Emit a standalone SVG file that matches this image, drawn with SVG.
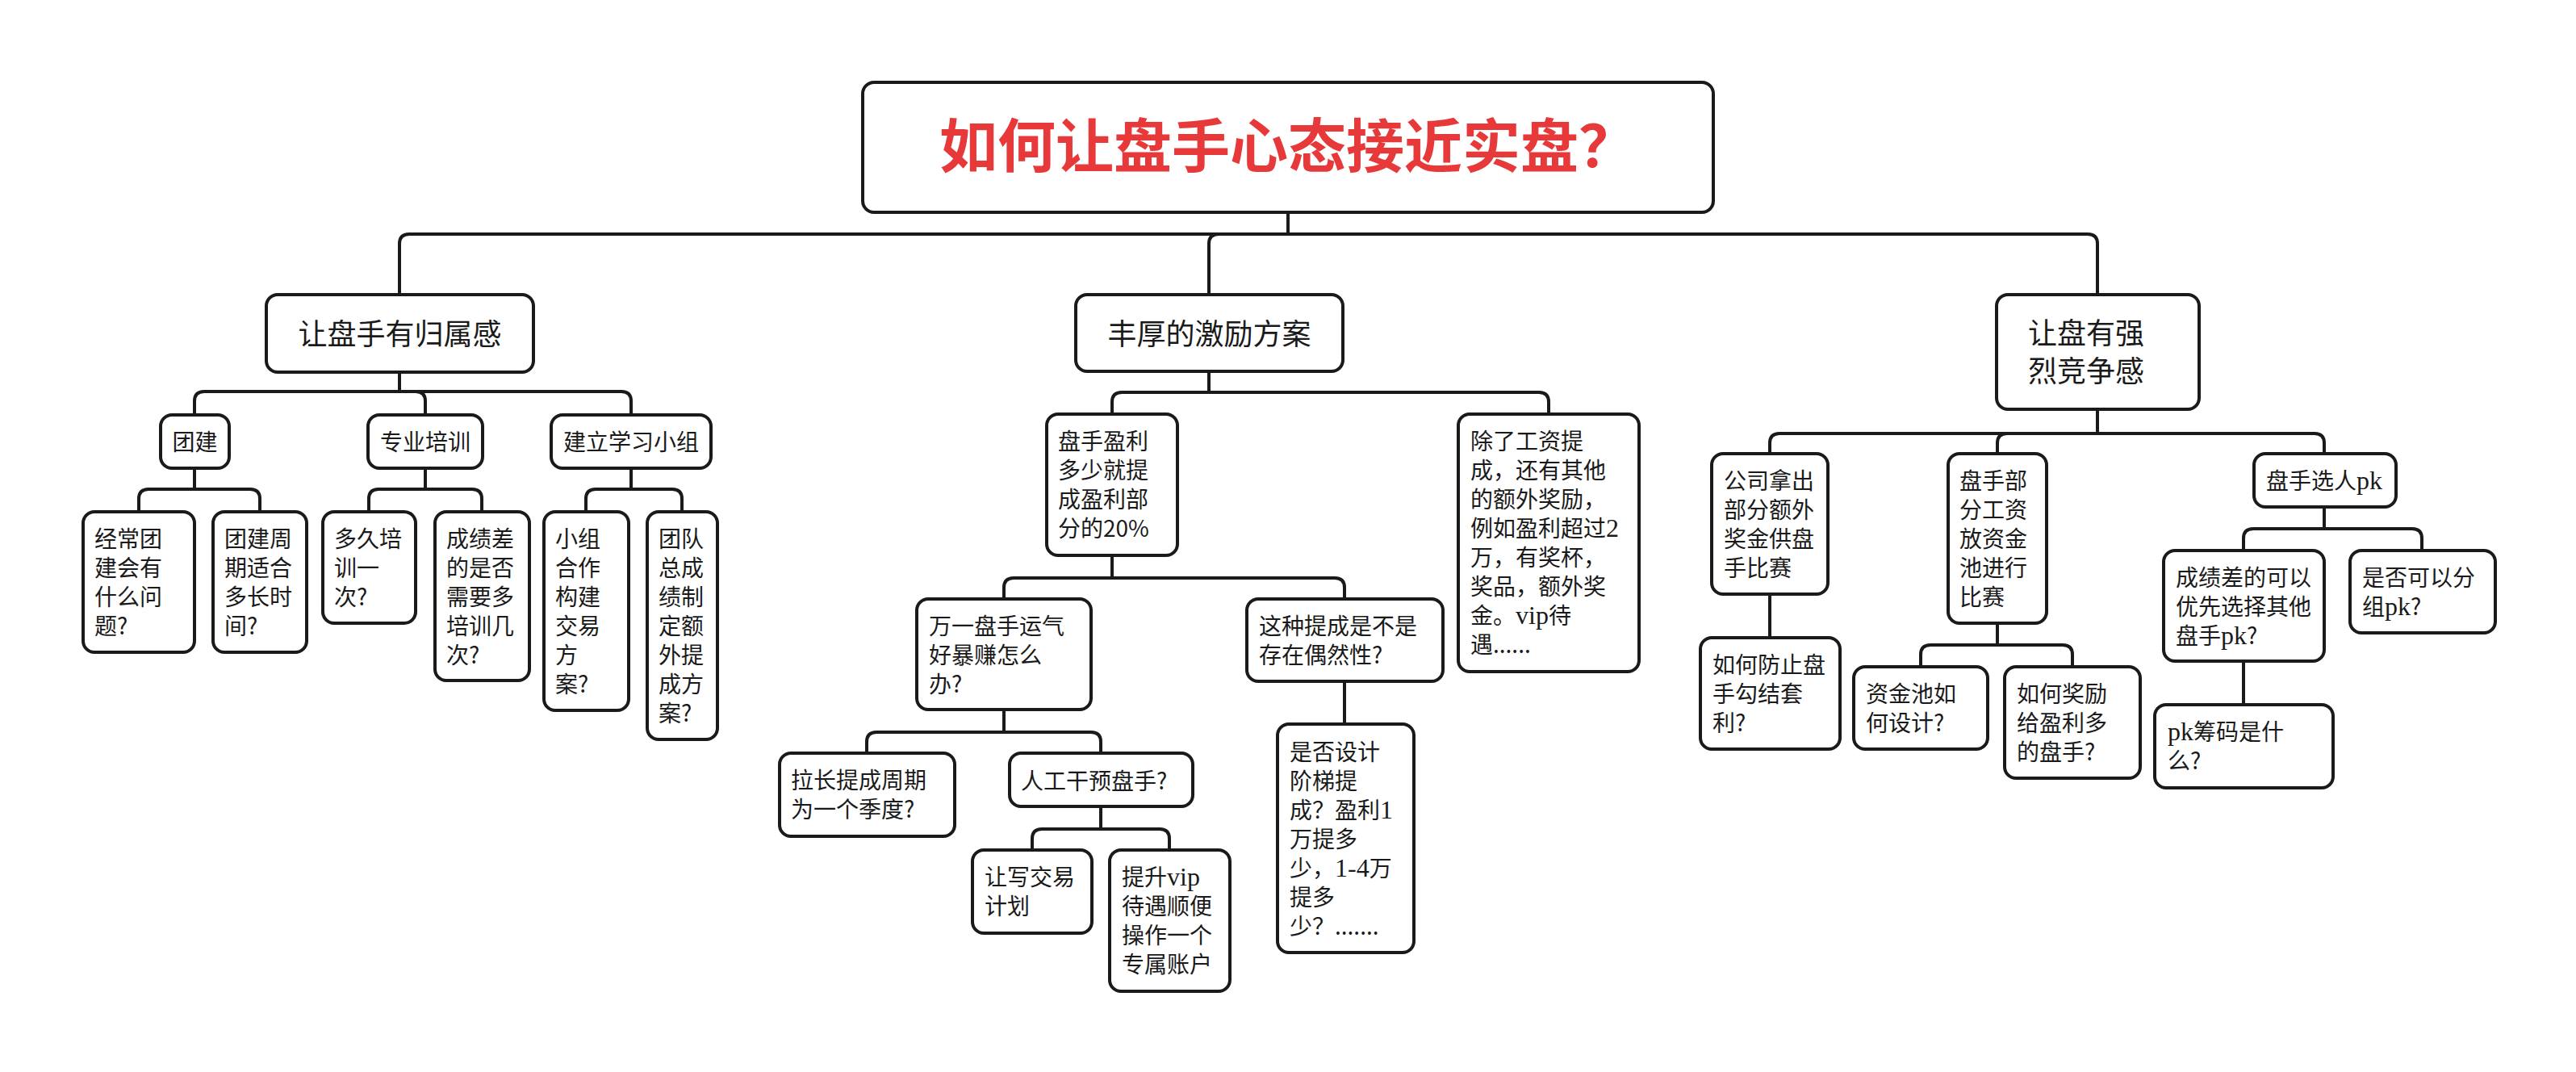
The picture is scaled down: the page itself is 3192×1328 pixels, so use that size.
<svg xmlns="http://www.w3.org/2000/svg" width="3192" height="1328" viewBox="0 0 3192 1328">
<style>
.box{fill:#fff;stroke:#1a1a1a;stroke-width:4}
.t{font-family:"Noto Sans CJK SC","Noto Sans",sans-serif;font-size:28px;fill:#1a1a1a}
.t2{font-family:"Noto Sans CJK SC","Noto Sans",sans-serif;font-size:36px;fill:#1a1a1a}
.title{font-family:"Noto Sans CJK SC","Noto Sans",sans-serif;font-size:72px;font-weight:bold;fill:#e8393a}
.s{font-family:"Liberation Serif","Noto Sans CJK SC",serif;font-size:32px}
.conn path{fill:none;stroke:#1a1a1a;stroke-width:4}
</style>
<rect x="0" y="0" width="3192" height="1328" fill="#fff"/>
<g class="conn">
<path d="M1596 263 V290 H507 Q495 290 495 302 V365"/>
<path d="M1596 290 H1510 Q1498 290 1498 302 V365"/>
<path d="M1596 290 H2587 Q2599 290 2599 302 V365"/>
<path d="M495 461 V485 H253 Q241 485 241 497 V514"/>
<path d="M495 485 H515 Q527 485 527 497 V514"/>
<path d="M495 485 H770 Q782 485 782 497 V514"/>
<path d="M241 580 V606 H184 Q172 606 172 618 V634"/>
<path d="M241 606 H310 Q322 606 322 618 V634"/>
<path d="M527 580 V606 H469 Q457 606 457 618 V634"/>
<path d="M527 606 H585 Q597 606 597 618 V634"/>
<path d="M782 580 V606 H738 Q726 606 726 618 V634"/>
<path d="M782 606 H833 Q845 606 845 618 V634"/>
<path d="M1498 460 V486 H1390 Q1378 486 1378 498 V513"/>
<path d="M1498 486 H1907 Q1919 486 1919 498 V513"/>
<path d="M1378 688 V716 H1256 Q1244 716 1244 728 V742"/>
<path d="M1378 716 H1654 Q1666 716 1666 728 V742"/>
<path d="M1244 879 V907 H1086 Q1074 907 1074 919 V933"/>
<path d="M1244 907 H1352 Q1364 907 1364 919 V933"/>
<path d="M1364 999 V1027 H1291 Q1279 1027 1279 1039 V1053"/>
<path d="M1364 1027 H1437 Q1449 1027 1449 1039 V1053"/>
<path d="M1666 844 V897"/>
<path d="M2599 507 V537 H2205 Q2193 537 2193 549 V562"/>
<path d="M2599 537 H2487 Q2475 537 2475 549 V562"/>
<path d="M2599 537 H2868 Q2880 537 2880 549 V562"/>
<path d="M2193 736 V790"/>
<path d="M2475 772 V799 H2392 Q2380 799 2380 811 V826"/>
<path d="M2475 799 H2556 Q2568 799 2568 811 V826"/>
<path d="M2880 628 V655 H2792 Q2780 655 2780 667 V682"/>
<path d="M2880 655 H2989 Q3001 655 3001 667 V682"/>
<path d="M2780 819 V873"/>
</g>

<g id="root"><rect class="box" x="1069" y="102" width="1054" height="161" rx="14"/><text class="title" x="1596" y="207" text-anchor="middle">如何让盘手心态接近实盘？</text></g>

<g id="n1"><rect class="box" x="330" y="365" width="331" height="96" rx="14"/><text class="t2" x="495.5" y="427" text-anchor="middle">让盘手有归属感</text></g>
<g id="n2"><rect class="box" x="1333" y="365" width="331" height="95" rx="14"/><text class="t2" x="1498.5" y="427" text-anchor="middle">丰厚的激励方案</text></g>
<g id="n3"><rect class="box" x="2474" y="365" width="251" height="142" rx="14"/><text class="t2"><tspan x="2513" y="426">让盘有强</tspan><tspan x="2513" y="473">烈竞争感</tspan></text></g>

<g id="n1a"><rect class="box" x="199" y="514" width="85" height="66" rx="14"/><text class="t" x="241.5" y="558" text-anchor="middle">团建</text></g>
<g id="n1b"><rect class="box" x="456" y="514" width="142" height="66" rx="14"/><text class="t" x="527" y="558" text-anchor="middle">专业培训</text></g>
<g id="n1c"><rect class="box" x="683" y="514" width="198" height="66" rx="14"/><text class="t" x="782" y="558" text-anchor="middle">建立学习小组</text></g>

<g id="n1a1"><rect class="box" x="103" y="634" width="138" height="174" rx="14"/><text class="t"><tspan x="117" y="678">经常团</tspan><tspan x="117" y="714">建会有</tspan><tspan x="117" y="750">什么问</tspan><tspan x="117" y="786">题?</tspan></text></g>
<g id="n1a2"><rect class="box" x="264" y="634" width="116" height="174" rx="14"/><text class="t"><tspan x="278" y="678">团建周</tspan><tspan x="278" y="714">期适合</tspan><tspan x="278" y="750">多长时</tspan><tspan x="278" y="786">间?</tspan></text></g>
<g id="n1b1"><rect class="box" x="400" y="634" width="115" height="138" rx="14"/><text class="t"><tspan x="414" y="678">多久培</tspan><tspan x="414" y="714">训一</tspan><tspan x="414" y="750">次?</tspan></text></g>
<g id="n1b2"><rect class="box" x="539" y="634" width="117" height="209" rx="14"/><text class="t"><tspan x="553" y="678">成绩差</tspan><tspan x="553" y="714">的是否</tspan><tspan x="553" y="750">需要多</tspan><tspan x="553" y="786">培训几</tspan><tspan x="553" y="822">次?</tspan></text></g>
<g id="n1c1"><rect class="box" x="674" y="634" width="105" height="246" rx="14"/><text class="t"><tspan x="688" y="678">小组</tspan><tspan x="688" y="714">合作</tspan><tspan x="688" y="750">构建</tspan><tspan x="688" y="786">交易</tspan><tspan x="688" y="822">方</tspan><tspan x="688" y="858">案?</tspan></text></g>
<g id="n1c2"><rect class="box" x="802" y="634" width="87" height="282" rx="14"/><text class="t"><tspan x="816" y="678">团队</tspan><tspan x="816" y="714">总成</tspan><tspan x="816" y="750">绩制</tspan><tspan x="816" y="786">定额</tspan><tspan x="816" y="822">外提</tspan><tspan x="816" y="858">成方</tspan><tspan x="816" y="894">案?</tspan></text></g>

<g id="n2a"><rect class="box" x="1297" y="513" width="162" height="175" rx="14"/><text class="t"><tspan x="1311" y="557">盘手盈利</tspan><tspan x="1311" y="593">多少就提</tspan><tspan x="1311" y="629">成盈利部</tspan><tspan x="1311" y="665">分的20%</tspan></text></g>
<g id="n2b"><rect class="box" x="1807" y="513" width="224" height="319" rx="14"/><text class="t"><tspan x="1822" y="557">除了工资提</tspan><tspan x="1822" y="593">成，还有其他</tspan><tspan x="1822" y="629">的额外奖励，</tspan><tspan x="1822" y="665">例如盈利超过<tspan class="s">2</tspan></tspan><tspan x="1822" y="701">万，有奖杯，</tspan><tspan x="1822" y="737">奖品，额外奖</tspan><tspan x="1822" y="773">金。<tspan class="s">vip</tspan>待</tspan><tspan x="1822" y="809">遇......</tspan></text></g>
<g id="n2a1"><rect class="box" x="1136" y="742" width="216" height="137" rx="14"/><text class="t"><tspan x="1151" y="786">万一盘手运气</tspan><tspan x="1151" y="822">好暴赚怎么</tspan><tspan x="1151" y="858">办?</tspan></text></g>
<g id="n2a2"><rect class="box" x="1545" y="742" width="243" height="102" rx="14"/><text class="t"><tspan x="1560" y="786">这种提成是不是</tspan><tspan x="1560" y="822">存在偶然性?</tspan></text></g>
<g id="n2a1a"><rect class="box" x="966" y="933" width="217" height="103" rx="14"/><text class="t"><tspan x="980" y="977">拉长提成周期</tspan><tspan x="980" y="1013">为一个季度?</tspan></text></g>
<g id="n2a1b"><rect class="box" x="1251" y="933" width="227" height="66" rx="14"/><text class="t" x="1265" y="978">人工干预盘手?</text></g>
<g id="n2a1b1"><rect class="box" x="1205" y="1053" width="148" height="103" rx="14"/><text class="t"><tspan x="1220" y="1097">让写交易</tspan><tspan x="1220" y="1133">计划</tspan></text></g>
<g id="n2a1b2"><rect class="box" x="1375" y="1053" width="149" height="175" rx="14"/><text class="t"><tspan x="1390" y="1097">提升<tspan class="s">vip</tspan></tspan><tspan x="1390" y="1133">待遇顺便</tspan><tspan x="1390" y="1169">操作一个</tspan><tspan x="1390" y="1205">专属账户</tspan></text></g>
<g id="n2a2a"><rect class="box" x="1583" y="897" width="169" height="283" rx="14"/><text class="t"><tspan x="1598" y="942">是否设计</tspan><tspan x="1598" y="978">阶梯提</tspan><tspan x="1598" y="1014">成？盈利<tspan class="s">1</tspan></tspan><tspan x="1598" y="1050">万提多</tspan><tspan x="1598" y="1086">少，<tspan class="s">1-4</tspan>万</tspan><tspan x="1598" y="1122">提多</tspan><tspan x="1598" y="1158">少？.......</tspan></text></g>

<g id="n3a"><rect class="box" x="2121" y="562" width="144" height="174" rx="14"/><text class="t"><tspan x="2136" y="606">公司拿出</tspan><tspan x="2136" y="642">部分额外</tspan><tspan x="2136" y="678">奖金供盘</tspan><tspan x="2136" y="714">手比赛</tspan></text></g>
<g id="n3b"><rect class="box" x="2414" y="562" width="122" height="210" rx="14"/><text class="t"><tspan x="2428" y="606">盘手部</tspan><tspan x="2428" y="642">分工资</tspan><tspan x="2428" y="678">放资金</tspan><tspan x="2428" y="714">池进行</tspan><tspan x="2428" y="750">比赛</tspan></text></g>
<g id="n3c"><rect class="box" x="2793" y="562" width="176" height="66" rx="14"/><text class="t" x="2808" y="606">盘手选人<tspan class="s">pk</tspan></text></g>
<g id="n3a1"><rect class="box" x="2107" y="790" width="173" height="138" rx="14"/><text class="t"><tspan x="2122" y="834">如何防止盘</tspan><tspan x="2122" y="870">手勾结套</tspan><tspan x="2122" y="906">利?</tspan></text></g>
<g id="n3b1"><rect class="box" x="2297" y="826" width="166" height="102" rx="14"/><text class="t"><tspan x="2312" y="870">资金池如</tspan><tspan x="2312" y="906">何设计?</tspan></text></g>
<g id="n3b2"><rect class="box" x="2484" y="826" width="168" height="138" rx="14"/><text class="t"><tspan x="2499" y="870">如何奖励</tspan><tspan x="2499" y="906">给盈利多</tspan><tspan x="2499" y="942">的盘手?</tspan></text></g>
<g id="n3c1"><rect class="box" x="2681" y="682" width="199" height="137" rx="14"/><text class="t"><tspan x="2696" y="726">成绩差的可以</tspan><tspan x="2696" y="762">优先选择其他</tspan><tspan x="2696" y="798">盘手<tspan class="s">pk</tspan>?</tspan></text></g>
<g id="n3c2"><rect class="box" x="2912" y="682" width="180" height="102" rx="14"/><text class="t"><tspan x="2927" y="726">是否可以分</tspan><tspan x="2927" y="762">组<tspan class="s">pk</tspan>?</tspan></text></g>
<g id="n3c1a"><rect class="box" x="2670" y="873" width="221" height="103" rx="14"/><text class="t"><tspan x="2686" y="917"><tspan class="s">pk</tspan>筹码是什</tspan><tspan x="2686" y="953">么?</tspan></text></g>
</svg>
